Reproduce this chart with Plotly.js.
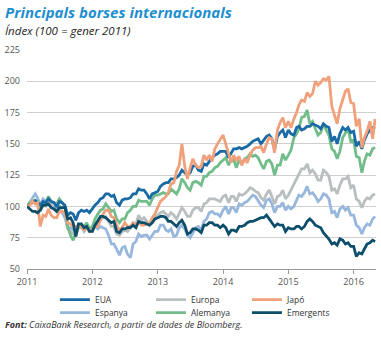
<!DOCTYPE html>
<html>
<head>
<meta charset="utf-8">
<script src="https://cdn.plot.ly/plotly-3.0.1.min.js"></script>
<style>
html,body{margin:0;padding:0;background:#fff;}
#chart{width:381px;height:338px;}
</style>
</head>
<body>
<div id="chart"></div>
<script>
// Semi-monthly observations (1st and 16th of each month), Jan 2011 - Apr 2016, plus 30 Apr 2016
var firstMonth = {year: 2011, month: 1};
var lastDate = '2016-04-30';

var eua = [
  100,101.5,103,104.5,103,101,104,103,106,104,103,99.5,104,103,101,93,95,94,89,95,97,96,97,95,
  98,101,103,106,107,110,110,108,109,103,101,105,106,106,107,110,110,114,113,113,110,106,110,111,
  112,116,118,119,119,122,122,123,125,129,127,125,127,132,133,129,128,134,133,136,139,141,142,144,
  144,144,139,143,146,146,147,146,147,148,150,152,153,154,150,153,156,157,154,146,156,159,161,155,
  161,158,157,163,164,161,162,164,164,166,165,164,162,166,164,163,152,156,150,158,163,161,163,159,
  160,148,152,146,153,158,161,163,162
];
var europa = [
  100,103,105,104,103,97,102,100,103,100,98,96,100,95,94,82,80,78,77,83,83,81,84,80,
  82,85,87,90,91,92,88,84,84,78,77,80,81,80,83,87,86,93,89,91,88,85,89,92,
  93,95,96,94,92,95,93,90,95,99,96,92,92,97,99,99,96,102,103,106,106,106,105,104,
  108,109,103,108,108,104,110,109,110,112,115,114,112,111,107,105,110,113,108,102,108,109,113,106,
  109,113,118,122,125,130,130,134,127,129,126,121,121,129,127,124,113,114,110,117,122,122,124,115,
  117,106,104,99,104,107,106,109,110
];
var japo = [
  100,101,104,102,103,84,93,92,98,93,91,91,96,96,95,87,86,84,84,85,84,81,83,81,
  80,84,84,90,94,97,97,92,91,85,81,83,87,84,84,87,85,88,85,85,86,86,91,94,
  100,104,106,108,111,118,119,128,133,150,132,122,131,138,133,131,132,141,137,141,136,146,150,153,
  157,150,141,135,141,137,140,133,138,135,141,145,147,147,148,143,150,155,154,143,161,167,171,163,
  168,163,170,175,181,185,184,191,188,190,200,197,199,202,201,204,180,172,166,178,186,192,194,183,
  182,164,170,147,155,160,168,154,170
];
var espanya = [
  100,103,107,110,107,101,106,104,106,101,99,97,101,95,91,83,83,81,81,85,84,80,83,81,
  83,84,82,84,83,82,77,70,70,65,61,67,68,62,59,70,72,78,76,77,77,74,77,80,
  80,85,85,81,80,82,76,77,83,85,82,77,75,79,83,84,81,88,90,95,96,94,94,92,
  97,100,94,99,99,95,102,101,103,104,107,109,108,104,101,99,105,106,102,95,100,100,103,97,
  100,98,100,105,109,108,111,116,110,111,108,104,106,110,109,106,95,96,91,98,100,97,99,93,
  93,85,83,78,83,86,85,90,92
];
var alemanya = [
  100,103,104,105,104,96,103,103,108,104,103,102,106,103,100,84,77,73,78,84,84,84,87,82,
  84,90,94,97,98,102,99,96,97,90,87,90,90,95,97,100,100,105,104,104,104,101,106,109,
  109,110,111,110,110,114,112,110,114,122,119,115,113,119,120,119,117,124,124,127,128,131,132,135,
  137,139,133,138,138,131,137,134,138,139,142,140,141,139,134,130,136,137,134,125,133,133,142,137,
  141,145,155,158,162,171,172,177,166,168,162,157,159,166,161,157,146,144,138,144,155,158,162,152,
  153,140,139,127,136,142,141,146,147
];
var emergents = [
  100,98,96,96,95,97,101,101,102,99,98,96,99,99,99,90,91,87,76,86,86,83,84,80,
  80,85,89,92,92,91,89,87,88,80,79,82,82,83,83,85,83,88,87,87,86,85,87,90,
  91,92,92,91,88,88,86,84,87,89,85,78,79,82,82,81,79,85,85,87,87,85,85,83,
  85,83,78,81,81,80,84,84,85,87,88,88,89,90,91,91,93,90,87,84,86,85,85,80,
  83,82,82,84,84,82,84,88,90,88,85,84,83,79,76,74,70,71,69,74,73,70,71,68,
  68,60,63,62,66,70,71,73,72
];

var seriesNames = ['EUA','Europa','Japó','Espanya','Alemanya','Emergents'];
var seriesData  = [eua, europa, japo, espanya, alemanya, emergents];
var seriesColors = ['#1a6aa6','#b9bfc1','#f0a07a','#97b7dd','#72bd8a','#0d4f6b'];
var legendRow = ['legend','legend','legend','legend2','legend2','legend2'];
var legendRanks = [1,2,3,1,2,3];
var drawOrder = [3,1,4,0,2,5]; // Espanya, Europa, Alemanya, EUA, Japó, Emergents

var yTicks = [50,75,100,125,150,175,200,225];
var xTickVals = ['2011-01-01','2012-01-01','2013-01-01','2014-01-01','2015-01-01','2016-01-01'];
var xTickText = ['2011','2012','2013','2014','2015','2016'];

function pad(n){return (n<10?'0':'')+n;}
var dates = [];
(function(){
  var y = firstMonth.year, m = firstMonth.month;
  var nMonths = (eua.length - 1) / 2;
  for (var i = 0; i < nMonths; i++) {
    dates.push(y + '-' + pad(m) + '-01');
    dates.push(y + '-' + pad(m) + '-16');
    m++; if (m > 12) { m = 1; y++; }
  }
  dates.push(lastDate);
})();

var FONT = '"Open Sans", "Noto Sans", sans-serif';
var traces = drawOrder.map(function(i){
  return {
    type: 'scatter', mode: 'lines', name: seriesNames[i],
    x: dates, y: seriesData[i],
    line: {color: seriesColors[i], width: 2.8},
    legend: legendRow[i],
    legendrank: legendRanks[i],
    hoverinfo: 'skip'
  };
});

function legendSpec(yPos){
  return {
    orientation: 'h', x: 0.08, xanchor: 'left', y: yPos, yanchor: 'top',
    entrywidth: 51, entrywidthmode: 'pixels',
    font: {family: FONT, size: 8.5, color: '#333'},
    bgcolor: 'rgba(0,0,0,0)', traceorder: 'normal'
  };
}

var layout = {
  width: 381, height: 338,
  margin: {l: 27, r: 5, t: 50, b: 69, autoexpand: false},
  paper_bgcolor: '#fff', plot_bgcolor: '#fff',
  font: {family: FONT, size: 9, color: '#444'},
  showlegend: true,
  legend: legendSpec(-0.074),
  legend2: legendSpec(-0.133),
  xaxis: {
    type: 'date', range: ['2011-01-01','2016-05-05'],
    tickvals: xTickVals, ticktext: xTickText,
    showgrid: false, zeroline: false,
    showline: true, linecolor: '#9a9a9a', linewidth: 1,
    ticks: 'outside', ticklen: 4, tickcolor: '#9a9a9a', tickwidth: 1,
    tickfont: {family: FONT, size: 9, color: '#555'},
    fixedrange: true
  },
  yaxis: {
    range: [50, 225], tickvals: yTicks,
    showgrid: true, gridcolor: '#cfcfcf', gridwidth: 1,
    zeroline: false, showline: false, ticks: '',
    ticklabelstandoff: 6,
    tickfont: {family: FONT, size: 9, color: '#555'},
    fixedrange: true
  },
  annotations: [
    {xref: 'paper', yref: 'paper', x: -0.069, y: 1.172, xanchor: 'left', yanchor: 'middle', showarrow: false,
     text: '<b><i>Principals borses internacionals</i></b>',
     font: {family: FONT, size: 15, color: '#1f8fcf'}},
    {xref: 'paper', yref: 'paper', x: -0.069, y: 1.09, xanchor: 'left', yanchor: 'middle', showarrow: false,
     text: '<i>Índex (100 = gener 2011)</i>',
     font: {family: FONT, size: 11.5, color: '#222'}},
    {xref: 'paper', yref: 'paper', x: -0.069, y: -0.255, xanchor: 'left', yanchor: 'middle', showarrow: false,
     text: '<b><i>Font:</i></b><i> CaixaBank Research, a partir de dades de Bloomberg.</i>',
     font: {family: FONT, size: 9, color: '#333'}}
  ]
};

Plotly.newPlot('chart', traces, layout, {displayModeBar: false, staticPlot: true});
</script>
</body>
</html>
